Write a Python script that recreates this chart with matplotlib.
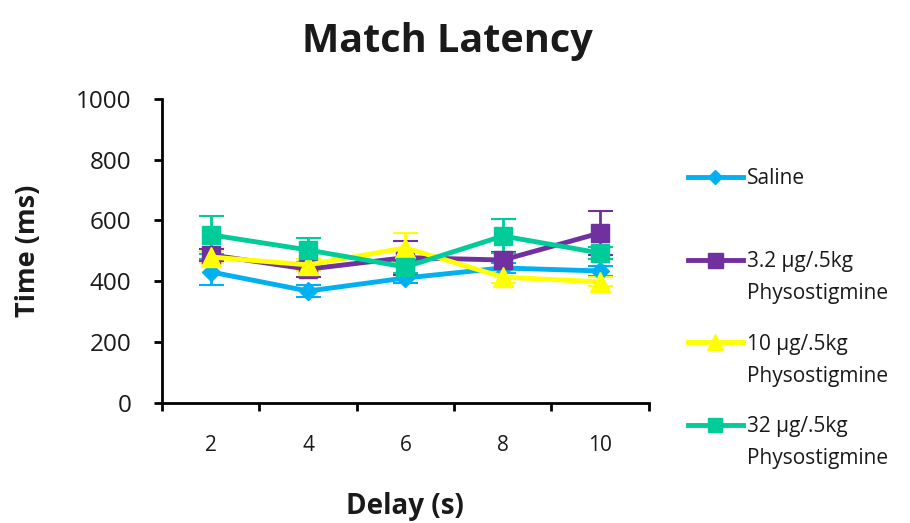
import matplotlib
matplotlib.use('Agg')
import matplotlib.pyplot as plt
from matplotlib.lines import Line2D
import numpy as np

plt.rcParams['font.family'] = ['Open Sans', 'DejaVu Sans']

# %% Data
delays = ['2', '4', '6', '8', '10']

saline = [431, 368, 411, 444, 434]
saline_err = [43, 20, 15, 15, 15]

physo_3_2 = [487, 440, 478, 470, 559]
physo_3_2_err = [20, 25, 56, 25, 73]

physo_10 = [480, 454, 510, 414, 398]
physo_10_err = [20, 20, 50, 20, 15]

physo_32 = [553, 503, 447, 549, 493]
physo_32_err = [62, 40, 20, 56, 20]

labels = ['Saline',
          '3.2 \u00b5g/.5kg\nPhysostigmine',
          '10 \u00b5g/.5kg\nPhysostigmine',
          '32 \u00b5g/.5kg\nPhysostigmine']
colors = ['#00B0F0', '#7030A0', '#FFFF00', '#00CC99']
markers = ['D', 's', '^', 's']
marker_sizes = [9, 13.5, 14, 13]

series = [saline, physo_3_2, physo_10, physo_32]
errors = [saline_err, physo_3_2_err, physo_10_err, physo_32_err]

text_col = '#1a1a1a'

# %% Plot
fig = plt.figure(figsize=(9.1, 5.23), dpi=100)
ax = fig.add_axes([0.178, 0.2295, 0.535, 0.5815])

x = np.arange(1, len(delays) + 1)
for vals, err, c, m, ms in zip(series, errors, colors, markers, marker_sizes):
    ax.errorbar(x, vals, yerr=err, color=c, marker=m, markersize=ms,
                linewidth=3.5, elinewidth=2, capsize=9, capthick=1.5)

ax.set_xlim(0.5, len(delays) + 0.5)
ax.set_ylim(0, 1000)
ax.set_yticks(np.arange(0, 1001, 200))
ax.tick_params(axis='y', labelsize=17.5, length=6, width=2, direction='out', pad=16,
               labelcolor=text_col)

# category boundaries carry the tick marks, labels sit at the centres
ax.set_xticks(np.arange(0.5, len(delays) + 1, 1))
ax.set_xticklabels([])
ax.set_xticks(x, minor=True)
ax.set_xticklabels(delays, minor=True)
ax.tick_params(axis='x', which='major', length=6, width=2, direction='out')
ax.tick_params(axis='x', which='minor', length=0, labelsize=15, pad=23,
               labelcolor=text_col)

for side in ['top', 'right']:
    ax.spines[side].set_visible(False)
for side in ['left', 'bottom']:
    ax.spines[side].set_linewidth(2)

ax.set_ylabel('Time (ms)', fontsize=19.5, fontweight='bold', labelpad=25, color=text_col)
ax.set_xlabel('Delay (s)', fontsize=20, fontweight='bold', labelpad=26, color=text_col)
fig.text(0.492, 0.958, 'Match Latency', fontsize=28.5, fontweight='bold',
         ha='center', va='top', color=text_col)

# legend drawn by hand so the handle lines up with the first text line
legend_y = [0.6616, 0.5029, 0.346, 0.1874]
line_step = 32 / 523
for lab, c, m, ms, ly in zip(labels, colors, markers, marker_sizes, legend_y):
    fig.add_artist(Line2D([0.756, 0.816], [ly, ly], transform=fig.transFigure,
                          color=c, linewidth=3.5))
    fig.add_artist(Line2D([0.786], [ly], transform=fig.transFigure,
                          color=c, marker=m, markersize=ms * 0.8, linestyle='none'))
    for i, part in enumerate(lab.split('\n')):
        fig.text(0.821, ly - 0.0143 - i * line_step, part, fontsize=15,
                 va='baseline', ha='left', color=text_col)

fig.savefig('out.png', dpi=100)
